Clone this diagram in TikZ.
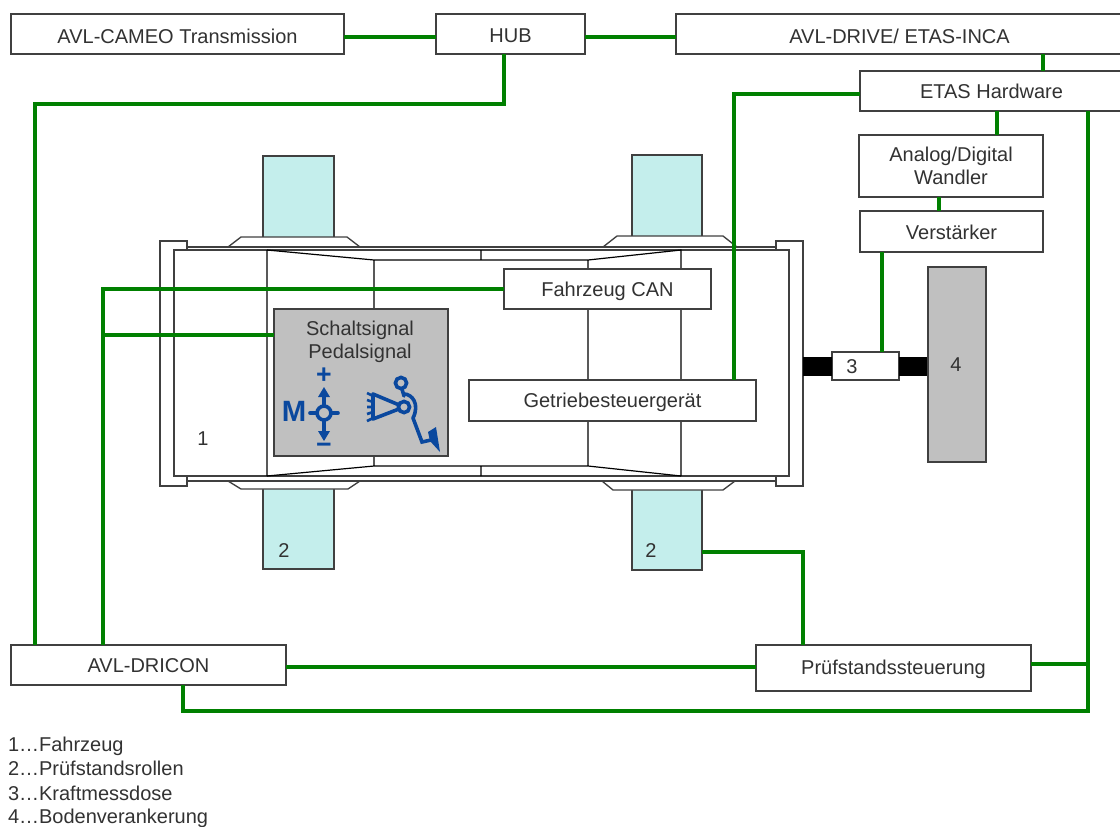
\documentclass[tikz,border=0pt]{standalone}
\usepackage{fontspec}
\setmainfont{Liberation Sans}
\definecolor{wire}{RGB}{0,128,0}
\definecolor{edge}{RGB}{64,64,64}
\definecolor{tyrefill}{RGB}{196,238,236}
\definecolor{blockgrey}{RGB}{192,192,192}
\definecolor{iconblue}{RGB}{10,72,158}
\definecolor{txt}{RGB}{50,50,50}
\newcommand{\bx}[7][box]{\node[#1,minimum width={(#5-#3)*0.75pt},minimum height={(#6-#4)*0.75pt}] (#2) at ({(#3+#5)/2},{(#4+#6)/2}) {#7};}
\newcommand{\lowered}[2][1.5pt]{\raisebox{-#1}[\height][\depth]{#2}}
\tikzset{
  box/.style={draw=edge,line width=1pt,fill=white,inner sep=0pt,outer sep=0pt,align=center,font=\fontsize{15}{17.25}\selectfont,text=txt},
  tyre/.style={box,fill=tyrefill},
  grey/.style={box,fill=blockgrey},
  wirel/.style={draw=wire,line width=2.3pt,line join=miter},
  body/.style={draw=edge,line width=1pt,fill=white,line join=miter},
  thin/.style={draw=black,line width=0.9pt},
  lab/.style={inner sep=0pt,outer sep=0pt,font=\fontsize{15}{17.25}\selectfont,text=txt},
  legend/.style={lab,anchor=base west},
  iconl/.style={draw=iconblue,line width=2.7pt,line cap=round},
  iconfine/.style={draw=iconblue,line width=2pt},
  icont/.style={inner sep=0pt,outer sep=0pt,text=iconblue,font=\fontsize{22}{22}\selectfont\bfseries}
}
\begin{document}
\begin{tikzpicture}[x=0.75pt,y=-0.75pt]
\useasboundingbox (0,0) rectangle (1120,826);
% tyres
\bx[tyre]{tyreTL}{263}{156}{334}{238}{}
\bx[tyre]{tyreTR}{632}{155}{702}{237}{}
\bx[tyre]{tyreBL}{263}{488}{334}{569}{}
\bx[tyre]{tyreBR}{632}{489}{702}{570}{}
% wheel arches
\draw[body] (228,247) -- (241,237) -- (347,237) -- (360,247);
\draw[body] (603,247) -- (617,236) -- (723,236) -- (737,247);
\draw[body] (228,481) -- (241,489) -- (348,489) -- (360,481);
\draw[body] (602,481) -- (613,490) -- (723,490) -- (735,481);
% vehicle
\draw[body] (187,247) rectangle (776,481);
\bx{bumpL}{160}{241}{187}{486}{}
\bx{bumpR}{776}{241}{803}{486}{}
\draw[body] (174,250) rectangle (789,476);
\draw[edge,line width=1pt] (187,247) -- (776,247) (187,481) -- (776,481);
\draw[thin] (267,250) -- (267,476)
  (267,250) -- (374,260) -- (588,260) -- (681,250) -- (681,476)
  (267,476) -- (374,466) -- (588,466) -- (681,476)
  (374,260) -- (374,466) (588,260) -- (588,466)
  (481,250) -- (481,260) (481,466) -- (481,476);
% load cell and anchoring
\bx[grey]{anchor}{928}{267}{986}{462}{}
\bx[box]{cell}{832}{352}{899}{380}{}
\fill[black] (bumpR.east |- 0,357) rectangle (cell.west |- 0,376);
\fill[black] (cell.east |- 0,357) rectangle (anchor.west |- 0,376);
\draw[edge,line width=1pt] (anchor.north west) rectangle (anchor.south east);
% boxes
\bx{cameo}{11}{14}{344}{54}{\lowered{AVL-CAMEO Transmission}}
\bx{hub}{436}{14}{585}{54}{\lowered{HUB}}
\bx{drive}{676}{14}{1123}{54}{\lowered{AVL-DRIVE/ ETAS-INCA}}
\bx{etas}{860}{71}{1123}{111}{ETAS Hardware}
\bx{adc}{859}{135}{1043}{197}{Analog/Digital\\Wandler}
\bx{amp}{860}{211}{1043}{252}{\lowered[0.75pt]{Verstärker}}
\bx{can}{504}{269}{711}{309}{\lowered{Fahrzeug CAN}}
\bx{tcu}{469}{380}{756}{421}{\lowered{Getriebesteuergerät}}
\bx{dricon}{11}{645}{286}{685}{\lowered[0.75pt]{AVL-DRICON}}
\bx{rig}{756}{645}{1031}{691}{\lowered[0.75pt]{Prüfstandssteuerung}}
\bx[grey]{sig}{274}{309}{448}{456}{}
% wires
\coordinate (jA) at (103,335);
\draw[wirel] (cameo.east |- 0,37) -- (hub.west |- 0,37);
\draw[wirel] (hub.east |- 0,37) -- (drive.west |- 0,37);
\draw[wirel] (504,0 |- hub.south) -- (504,104) -- (35,104) -- (35,0 |- dricon.north);
\draw[wirel] (1043,0 |- drive.south) -- (1043,0 |- etas.north);
\draw[wirel] (etas.west |- 0,94) -- (734,94) -- (734,0 |- tcu.north);
\draw[wirel] (997,0 |- etas.south) -- (997,0 |- adc.north);
\draw[wirel] (939,0 |- adc.south) -- (939,0 |- amp.north);
\draw[wirel] (882,0 |- amp.south) -- (882,0 |- cell.north);
\draw[wirel] (1088,0 |- etas.south) -- (1088,711) -- (183,711) -- (183,0 |- dricon.south);
\draw[wirel] (rig.east |- 0,664) -- (1088,664);
\draw[wirel] (dricon.east |- 0,667) -- (rig.west |- 0,667);
\draw[wirel] (803,0 |- rig.north) -- (803,552) -- (tyreBR.east |- 0,552);
\draw[wirel] (103,0 |- dricon.north) -- (103,289) -- (can.west |- 0,289);
\draw[wirel] (jA) -- (sig.west |- jA);
% labels
\node[lab] (n1) at (203,439) {1};
\node[lab] (n2a) at (284,551) {2};
\node[lab] (n2b) at (651,551) {2};
\node[lab] (n3) at (852,367) {3};
\node[lab] (n4) at (956,365) {4};
\node[lab,align=center] (sigtxt) at (360,342) {Schaltsignal\\Pedalsignal};
\node[legend] (l1) at (8,751) {1…Fahrzeug};
\node[legend] (l2) at (8,775) {2…Prüfstandsrollen};
\node[legend] (l3) at (8,800) {3…Kraftmessdose};
\node[legend] (l4) at (8,823) {4…Bodenverankerung};
% shift icon
\node[icont] (iconM) at (294,411) {M};
\node[icont,font=\fontsize{20}{20}\selectfont\bfseries] (iconP) at (324,376) {+};
\node[icont,font=\fontsize{20}{20}\selectfont\bfseries] (iconN) at (324,448.5) {−};
\draw[iconl] (310,413) -- (338,413);
\draw[iconl,line cap=butt] (324,394) -- (324,405) (324,421) -- (324,434);
\fill[iconblue] (324,387) -- (330,397) -- (318,397) -- cycle;
\fill[iconblue] (324,441) -- (330,431) -- (318,431) -- cycle;
\draw[iconl,fill=blockgrey] (324,413) circle[radius=5.2pt];
% pedal icon
\draw[iconl,line join=round] (373,394) -- (373,419) -- (404,407) -- cycle;
\draw[iconfine] (373,396) -- (367,393) (373,402) -- (367,400) (373,407) -- (367,407) (373,412) -- (367,414) (373,418) -- (367,421);
\draw[iconl] (404,394) .. controls (412,394) and (420,404) .. (413,418);
\draw[iconl] (413,418) -- (422,442) -- (431,440);
\draw[iconl] (402,389) -- (404,396);
\fill[iconblue] (428,432) -- (436,427) -- (440,452) -- (430,441) -- cycle;
\draw[iconl,fill=blockgrey] (404,407) circle[radius=4.2pt];
\draw[iconl,fill=blockgrey] (401,383) circle[radius=4.2pt];
\end{tikzpicture}
\end{document}
